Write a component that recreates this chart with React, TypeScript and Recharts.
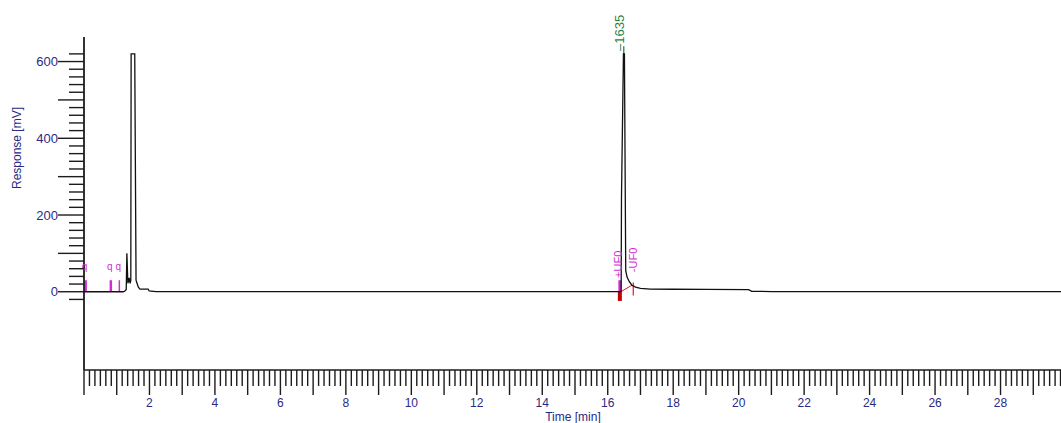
import { LineChart, Line, XAxis, YAxis, ReferenceDot, ReferenceLine } from "recharts";

// chromatogram trace: time [min] / response [mV]
const times = [
  0, 1.2, 1.25, 1.29, 1.31, 1.34, 1.38, 1.41, 1.43, 1.44, 1.55, 1.59, 1.62, 1.66, 1.71,
  1.96, 1.99, 2.2, 16.38, 16.41, 16.42, 16.48, 16.51, 16.55, 16.59, 16.66, 16.74, 16.85,
  17.0, 17.3, 18.0, 19.0, 20.3, 20.4, 21.0, 30,
];
const response = [
  0, 0, 2, 6, 100, 22, 36, 22, 30, 620, 620, 30, 22, 12, 7,
  7, 2, 0.5, 0.5, 1, 245, 620, 620, 55, 38, 26, 17, 12,
  9, 7, 6.5, 6, 5.5, 1, 0.5, 0.5,
];

const xTickLabels = [2, 4, 6, 8, 10, 12, 14, 16, 18, 20, 22, 24, 26, 28];
const yTickLabels = [0, 200, 400, 600];

// integration event markers
const eventTimes = [0.05, 0.82, 1.08];
const peakTime = 16.49;
const peakName = "–1635";

const data = times.map((t, i) => ({ t, v: response[i] }));

const xTicks: number[] = [];
for (let i = 0; i <= 180; i++) xTicks.push(i / 6);
const yTicks: number[] = [];
for (let v = -20; v <= 620; v += 20) yTicks.push(v);

const NAVY = "#2a2a86";
const AXIS = "#1c1c1c";
const MAGENTA = "#d42ad4";
const FONT = "'Liberation Sans', Arial, sans-serif";

const XTick = (props: any) => {
  const { x, y, payload } = props;
  const v = payload.value as number;
  const r = Math.round(v);
  const major = Math.abs(v - r) < 1e-6;
  const lab = major && xTickLabels.includes(r);
  return (
    <g>
      <line x1={x} x2={x} y1={y} y2={y + (major ? 25 : 16)} stroke={AXIS} strokeWidth={1.4} />
      {lab && (
        <text x={x} y={y + 37} textAnchor="middle" fontSize={12} fill={NAVY} fontFamily={FONT}>
          {r}
        </text>
      )}
    </g>
  );
};

const YTick = (props: any) => {
  const { x, y, payload } = props;
  const v = payload.value as number;
  const major = v % 100 === 0;
  const lab = yTickLabels.includes(v);
  return (
    <g>
      <line x1={x - (major ? 26 : 15)} x2={x} y1={y} y2={y} stroke={AXIS} strokeWidth={1.4} />
      {lab && (
        <text x={x - 26} y={y + 4.5} textAnchor="end" fontSize={13} fill={NAVY} fontFamily={FONT}>
          {v}
        </text>
      )}
    </g>
  );
};

const rotText = (txt: string, color: string, size: number, dx: number, dy: number) => (p: any) =>
  (
    <text
      x={p.cx + dx}
      y={p.cy + dy}
      transform={`rotate(-90 ${p.cx + dx} ${p.cy + dy})`}
      fontSize={size}
      fill={color}
      fontFamily={FONT}
      dominantBaseline="central"
    >
      {txt}
    </text>
  );

export default function App() {
  return (
    <div
      style={{
        position: "absolute",
        left: 0,
        top: 0,
        width: 1061,
        height: 423,
        overflow: "hidden",
        background: "#fff",
      }}
    >
      <LineChart width={1066} height={423} data={data} margin={{ top: 37, right: 0, bottom: 0, left: 0 }}>
        <XAxis
          dataKey="t"
          type="number"
          domain={[0, 30]}
          ticks={xTicks}
          interval={0}
          tick={<XTick />}
          tickLine={false}
          tickSize={0}
          tickMargin={0}
          height={53}
          axisLine={{ stroke: AXIS, strokeWidth: 1.4 }}
          allowDataOverflow
          label={{
            content: () => (
              <text x={573} y={421} textAnchor="middle" fontSize={12} fill={NAVY} fontFamily={FONT}>
                Time [min]
              </text>
            ),
          }}
        />
        <YAxis
          type="number"
          domain={[-204, 664]}
          ticks={yTicks}
          interval={0}
          tick={<YTick />}
          tickLine={false}
          tickSize={0}
          tickMargin={0}
          width={84}
          axisLine={{ stroke: AXIS, strokeWidth: 1.8 }}
          allowDataOverflow
          label={{
            content: () => (
              <text
                x={17}
                y={148}
                transform="rotate(-90 17 148)"
                textAnchor="middle"
                dominantBaseline="central"
                fontSize={12}
                fill={NAVY}
                fontFamily={FONT}
              >
                Response [mV]
              </text>
            ),
          }}
        />

        {eventTimes.map((t, i) => (
          <ReferenceLine
            key={"ev" + i}
            segment={[
              { x: t, y: 0 },
              { x: t, y: 30 },
            ]}
            stroke={MAGENTA}
            strokeWidth={i === 2 ? 1.5 : 2.5}
          />
        ))}
        {eventTimes.map((t, i) => (
          <ReferenceDot
            key={"q" + i}
            x={t}
            y={57}
            r={0}
            ifOverflow="visible"
            shape={(p: any) => (
              <text
                x={p.cx - 1}
                y={p.cy}
                textAnchor="middle"
                fontSize={10}
                fill={MAGENTA}
                fontFamily={FONT}
              >
                q
              </text>
            )}
          />
        ))}

        {/* peak start / end integration marks */}
        <ReferenceLine segment={[{ x: 16.37, y: 0 }, { x: 16.37, y: -24 }]} stroke="#c40000" strokeWidth={4} />
        <ReferenceLine segment={[{ x: 16.37, y: 0 }, { x: 16.37, y: 30 }]} stroke={MAGENTA} strokeWidth={3} />
        <ReferenceLine segment={[{ x: 16.4, y: 0 }, { x: 16.74, y: 17 }]} stroke="#d42020" strokeWidth={1} />
        <ReferenceLine segment={[{ x: 16.78, y: 24 }, { x: 16.78, y: -10 }]} stroke="#d42020" strokeWidth={1.2} />
        <ReferenceDot x={16.3} y={36} r={0} shape={rotText("+UF0", MAGENTA, 11, 0, 0)} />
        <ReferenceDot x={16.77} y={51} r={0} shape={rotText("-UF0", MAGENTA, 11, 0, 0)} />

        {/* peak label */}
        <ReferenceLine segment={[{ x: peakTime, y: 620 }, { x: peakTime, y: 640 }]} stroke="#2f7f3f" strokeWidth={1.3} />
        <ReferenceDot x={peakTime} y={620} r={0} shape={rotText(peakName, "#2f7f3f", 13, -4, -3)} />

        <Line
          dataKey="v"
          type="linear"
          stroke="#111"
          strokeWidth={1.3}
          dot={false}
          isAnimationActive={false}
        />
      </LineChart>
    </div>
  );
}
